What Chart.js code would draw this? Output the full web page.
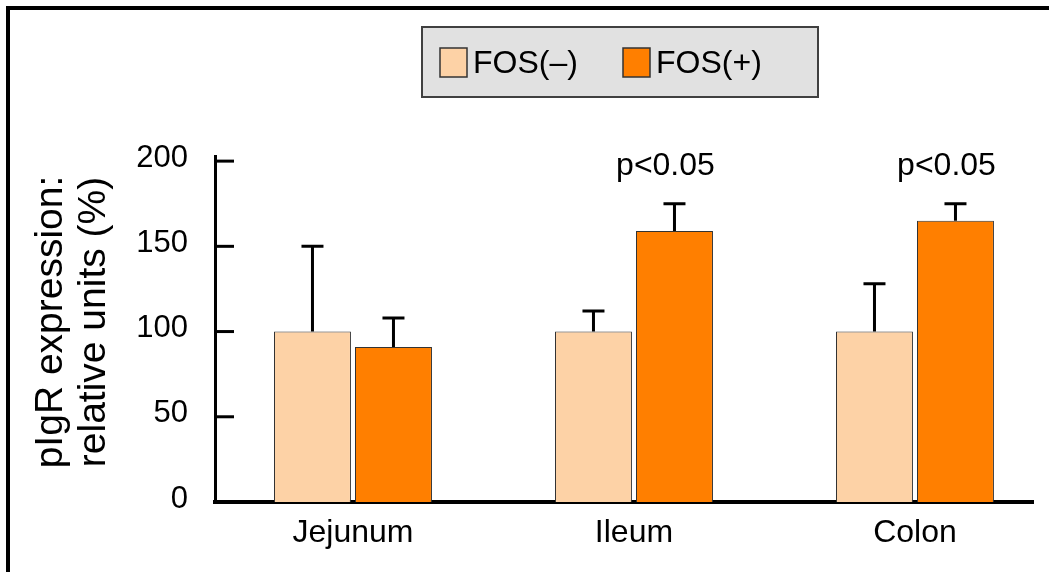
<!DOCTYPE html>
<html>
<head>
<meta charset="utf-8">
<title>pIgR expression</title>
<script src="https://cdn.jsdelivr.net/npm/chart.js@4.4.0/dist/chart.umd.min.js"></script>
<style>
  html, body { margin: 0; padding: 0; background: #fff; overflow: hidden; }
  #wrap { width: 1049px; height: 572px; position: relative; }
</style>
</head>
<body>
<div id="wrap"><canvas id="pigrChart"></canvas></div>
<script>
// data
const categories = ['Jejunum', 'Ileum', 'Colon'];
const seriesNames = ['FOS(\u2013)', 'FOS(+)'];
const fosMinus = [100, 100, 100];
const fosPlus = [91, 159, 165];
const fosMinusErr = [50, 12, 28];
const fosPlusErr = [17, 16, 10];
const sigLabels = ['', 'p<0.05', 'p<0.05'];
const yTicks = [0, 50, 100, 150, 200];
const yTitle = ['pIgR expression:', 'relative units (%)'];

const FONT = "'Liberation Sans', Arial, sans-serif";
const colors = ['#FDD2A6', '#FF7F00'];
const errors = [fosMinusErr, fosPlusErr];

// white page with the black frame on top and left
const framePlugin = {
    id: 'frame',
    beforeDraw(chart) {
        const ctx = chart.ctx;
        ctx.save();
        ctx.fillStyle = '#fff';
        ctx.fillRect(0, 0, chart.width, chart.height);
        ctx.fillStyle = '#000';
        ctx.fillRect(6, 6, chart.width, 4);
        ctx.fillRect(6, 6, 4, chart.height);
        ctx.restore();
    }
};

// ticks pointing into the plot
const innerTicks = {
    id: 'innerTicks',
    afterDraw(chart) {
        const ctx = chart.ctx;
        const y = chart.scales.y;
        ctx.save();
        ctx.strokeStyle = '#000';
        ctx.lineWidth = 3;
        yTicks.forEach(v => {
            const py = y.getPixelForValue(v);
            ctx.beginPath();
            ctx.moveTo(chart.chartArea.left, py);
            ctx.lineTo(chart.chartArea.left + 19, py);
            ctx.stroke();
        });
        ctx.restore();
    }
};

// upper error bars + significance text
const errorBars = {
    id: 'errorBars',
    afterDatasetsDraw(chart) {
        const ctx = chart.ctx;
        const y = chart.scales.y;
        ctx.save();
        ctx.strokeStyle = '#000';
        ctx.lineWidth = 3;
        chart.data.datasets.forEach((ds, di) => {
            chart.getDatasetMeta(di).data.forEach((bar, i) => {
                const top = y.getPixelForValue(ds.data[i].y + errors[di][i]);
                ctx.beginPath();
                ctx.moveTo(bar.x, bar.y);
                ctx.lineTo(bar.x, top);
                ctx.moveTo(bar.x - 11, top);
                ctx.lineTo(bar.x + 11, top);
                ctx.stroke();
            });
        });
        ctx.fillStyle = '#000';
        ctx.font = '32px ' + FONT;
        ctx.textAlign = 'center';
        ctx.textBaseline = 'alphabetic';
        const plusBars = chart.getDatasetMeta(1).data;
        sigLabels.forEach((txt, i) => {
            if (!txt) return;
            ctx.fillText(txt, plusBars[i].x - 9, y.getPixelForValue(200) + 14);
        });
        ctx.restore();
    }
};

// grey legend box
const legendBox = {
    id: 'legendBox',
    afterDraw(chart) {
        const ctx = chart.ctx;
        ctx.save();
        ctx.fillStyle = '#e1e1e1';
        ctx.fillRect(422, 27, 396, 70);
        ctx.strokeStyle = '#404040';
        ctx.lineWidth = 2;
        ctx.strokeRect(422, 27, 396, 70);
        const xs = [440, 623];
        ctx.font = '32px ' + FONT;
        ctx.textBaseline = 'middle';
        ctx.textAlign = 'left';
        chart.data.datasets.forEach((ds, i) => {
            ctx.fillStyle = ds.backgroundColor;
            ctx.fillRect(xs[i], 48, 27, 29);
            ctx.strokeStyle = '#333';
            ctx.lineWidth = 1.5;
            ctx.strokeRect(xs[i], 48, 27, 29);
            ctx.fillStyle = '#000';
            ctx.fillText(ds.label, xs[i] + 33, 64);
        });
        ctx.restore();
    }
};

// two-line rotated y title
const yTitlePlugin = {
    id: 'yTitle',
    afterDraw(chart) {
        const ctx = chart.ctx;
        ctx.save();
        ctx.fillStyle = '#000';
        ctx.font = '39px ' + FONT;
        ctx.textAlign = 'center';
        ctx.textBaseline = 'alphabetic';
        const baseX = [62, 105];
        yTitle.forEach((line, i) => {
            ctx.save();
            ctx.translate(baseX[i], 322);
            ctx.rotate(-Math.PI / 2);
            ctx.fillText(line, 0, 0);
            ctx.restore();
        });
        ctx.restore();
    }
};

const ctx = document.getElementById('pigrChart').getContext('2d');
const myChart = new Chart(ctx, {
    type: 'bar',
    data: {
        datasets: [{
            label: seriesNames[0],
            data: fosMinus.map((v, i) => ({ x: i, y: v })),
            backgroundColor: colors[0],
            borderColor: '#333',
            borderWidth: 1
        }, {
            label: seriesNames[1],
            data: fosPlus.map((v, i) => ({ x: i, y: v })),
            backgroundColor: colors[1],
            borderColor: '#333',
            borderWidth: 1
        }]
    },
    options: {
        responsive: true,
        maintainAspectRatio: false,
        devicePixelRatio: 1,
        animation: false,
        categoryPercentage: 0.5765,
        barPercentage: 0.95,
        layout: { padding: { top: 156, right: 16, bottom: 0, left: 0 } },
        plugins: {
            legend: { display: false },
            tooltip: { enabled: false }
        },
        scales: {
            x: {
                type: 'linear',
                min: -0.491,
                max: 2.42,
                offset: false,
                z: 1,
                afterBuildTicks: s => { s.ticks = categories.map((c, i) => ({ value: i })); },
                afterFit: s => { s.height = 70; },
                ticks: {
                    callback: v => categories[v],
                    font: { family: FONT, size: 32 },
                    color: '#000',
                    padding: 12,
                    maxRotation: 0,
                    autoSkip: false
                },
                grid: { display: false, drawTicks: false, offset: false },
                border: { display: true, width: 4, color: '#000' }
            },
            y: {
                min: 0,
                max: 203,
                afterBuildTicks: s => { s.ticks = yTicks.map(v => ({ value: v })); },
                afterFit: s => { s.width = 215; },
                ticks: {
                    font: { family: FONT, size: 31 },
                    color: '#000',
                    padding: 27,
                    labelOffset: -3
                },
                grid: { display: false, drawTicks: false },
                border: { display: true, width: 3, color: '#000' }
            }
        }
    },
    plugins: [framePlugin, innerTicks, errorBars, legendBox, yTitlePlugin]
});
</script>
</body>
</html>
